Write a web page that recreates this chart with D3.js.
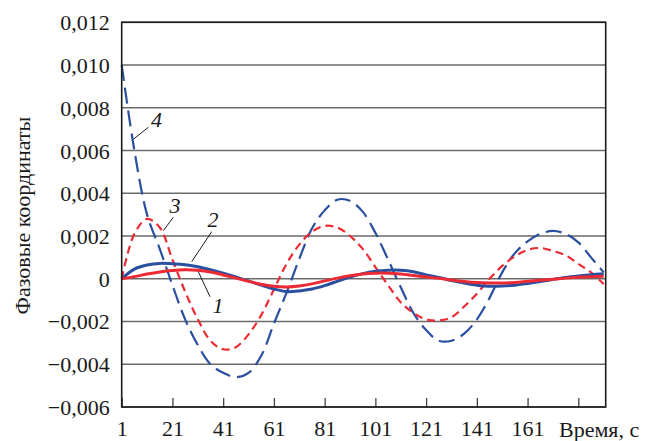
<!DOCTYPE html>
<html><head><meta charset="utf-8">
<script src="https://cdn.jsdelivr.net/npm/d3@7"></script>
<style>
html,body{margin:0;padding:0;background:#fff;}
svg{display:block;}
svg text{font-family:"Liberation Serif","Tinos","Times New Roman",Times,"DejaVu Serif",serif !important;fill:#1a1a1a;}
</style></head>
<body>
<svg id="c" width="646" height="441"></svg>
<script>
const time = [1,6,11,16,21,26,31,36,41,46,51,56,61,66,71,76,81,86,91,96,101,106,111,116,121,126,131,136,141,146,151,156,161,166,171,176,181,186,191];
const series1 = [0,0.0001,0.00022,0.00032,0.00039,0.00042,0.0004,0.00032,0.00018,0.00003,-0.00012,-0.00026,-0.00035,-0.00038,-0.00034,-0.00024,-0.0001,0.00003,0.00014,0.00022,0.00026,0.00026,0.00022,0.00015,0.00008,0.00002,-0.00006,-0.00013,-0.00018,-0.0002,-0.0002,-0.00017,-0.00012,-0.00007,-0.00002,0.00003,0.00007,0.0001,0.00012];
const series2 = [0,0.00045,0.00064,0.00072,0.0007,0.00066,0.00056,0.00042,0.00026,0.00008,-0.0001,-0.0003,-0.00048,-0.0006,-0.00057,-0.00048,-0.00032,-0.00012,0.00008,0.00024,0.00035,0.0004,0.0004,0.00033,0.00018,0.00006,-0.00008,-0.0002,-0.0003,-0.00035,-0.00034,-0.0003,-0.00022,-0.00013,-0.00003,0.00006,0.00013,0.00019,0.00024];
const series3 = [0,0.0021,0.0028,0.0024,0.0009,-0.0006,-0.0019,-0.0029,-0.0033,-0.0032,-0.0026,-0.0017,-0.0005,0.0007,0.0016,0.0022,0.00247,0.0024,0.002,0.0014,0.00055,-0.0003,-0.0011,-0.0016,-0.0019,-0.00195,-0.0018,-0.0013,-0.0007,0,0.0006,0.00105,0.00135,0.00144,0.0013,0.0011,0.0007,0.0003,-0.00025];
const series4 = [0.01,0.006,0.003,0.0014,-0.0003,-0.0019,-0.0031,-0.004,-0.0044,-0.0046,-0.0044,-0.0036,-0.0021,-0.00065,0.00093,0.00235,0.0032,0.0037,0.00365,0.00314,0.00215,0.0009,-0.0004,-0.0016,-0.0024,-0.0029,-0.0029,-0.00257,-0.0019,-0.0009,0.0003,0.0012,0.00175,0.0021,0.00224,0.0021,0.0017,0.001,0.0003];
const xTicks = [1,21,41,61,81,101,121,141,161,181];
const xLabels = ["1","21","41","61","81","101","121","141","161",""];
const yTicks = [-0.006,-0.004,-0.002,0,0.002,0.004,0.006,0.008,0.010,0.012];
const yLabels = ["−0,006","−0,004","−0,002","0","0,002","0,004","0,006","0,008","0,010","0,012"];
const seriesNames = ["1","2","3","4"];

const svg = d3.select("#c");
const L = 121.7, R = 605.7, T = 22.3, B = 407;
const x = d3.scaleLinear().domain([1, 191.8]).range([L, R]);
const y = d3.scaleLinear().domain([-0.006, 0.012]).range([B, T]);
const FS = 22;

// grid
svg.append("g").selectAll("line").data(yTicks).join("line")
  .attr("x1", L).attr("x2", R).attr("y1", d => y(d)).attr("y2", d => y(d))
  .attr("stroke", "#6a6a6a").attr("stroke-width", 1.5);

// y axis labels
const yAxis = d3.axisLeft(y).tickValues(yTicks).tickSize(0).tickPadding(12)
  .tickFormat((d, i) => yLabels[i]);
const ga = svg.append("g").attr("transform", `translate(${L},0)`).call(yAxis);
ga.attr("font-family", null).attr("font-size", null);
ga.select(".domain").remove();
ga.selectAll("text").attr("font-size", FS).attr("dy", "0.34em");

// x axis
const xAxis = d3.axisBottom(x).tickValues(xTicks).tickSizeInner(-9).tickSizeOuter(0).tickPadding(13.5)
  .tickFormat((d, i) => xLabels[i]);
const gx = svg.append("g").attr("transform", `translate(0,${B})`).call(xAxis);
gx.attr("font-family", null).attr("font-size", null);
gx.select(".domain").remove();
gx.selectAll("line").attr("stroke", "#444").attr("stroke-width", 1.3);
gx.selectAll("text").attr("font-size", FS);

svg.append("text").attr("x", 559).attr("y", 436.5).attr("font-size", FS).text("Время, с");
svg.append("text").attr("transform", "translate(30,215.5) rotate(-90)")
  .attr("text-anchor", "middle").attr("font-size", FS).text("Фазовые координаты");

// lines
const blue = "#2a4f9f", red = "#ec2a33";
const line = d3.line().x((d, i) => x(time[i])).y(d => y(d)).curve(d3.curveCatmullRom.alpha(0.5));
const specs = [
  {data: series4, color: blue, w: 2.2, dash: "16,7"},
  {data: series3, color: red, w: 2.2, dash: "8,5"},
  {data: series2, color: blue, w: 3, dash: null},
  {data: series1, color: red, w: 3, dash: null}
];
specs.forEach(s => {
  svg.append("path").attr("d", line(s.data)).attr("fill", "none")
    .attr("stroke", s.color).attr("stroke-width", s.w)
    .attr("stroke-dasharray", s.dash);
});

// frame
svg.append("rect").attr("x", L).attr("y", T).attr("width", R - L).attr("height", B - T)
  .attr("fill", "none").attr("stroke", "#1a1a1a").attr("stroke-width", 1.6);

// labels with leaders
const ann = [
  {n: seriesNames[3], tx: 151, ty: 127, x1: 133.3, y1: 139.3, x2: 148.3, y2: 127.3},
  {n: seriesNames[2], tx: 169.5, ty: 213, x1: 163.3, y1: 230.7, x2: 173.3, y2: 217.3},
  {n: seriesNames[1], tx: 207.5, ty: 227, x1: 191.7, y1: 261.7, x2: 211.7, y2: 231.7},
  {n: seriesNames[0], tx: 212.5, ty: 313, x1: 198.3, y1: 271.7, x2: 210, y2: 296.7}
];
ann.forEach(a => {
  svg.append("line").attr("x1", a.x1).attr("y1", a.y1).attr("x2", a.x2).attr("y2", a.y2)
    .attr("stroke", "#1a1a1a").attr("stroke-width", 1);
  svg.append("text").attr("x", a.tx).attr("y", a.ty).attr("font-size", FS)
    .attr("font-style", "italic").text(a.n);
});
</script>
</body></html>
